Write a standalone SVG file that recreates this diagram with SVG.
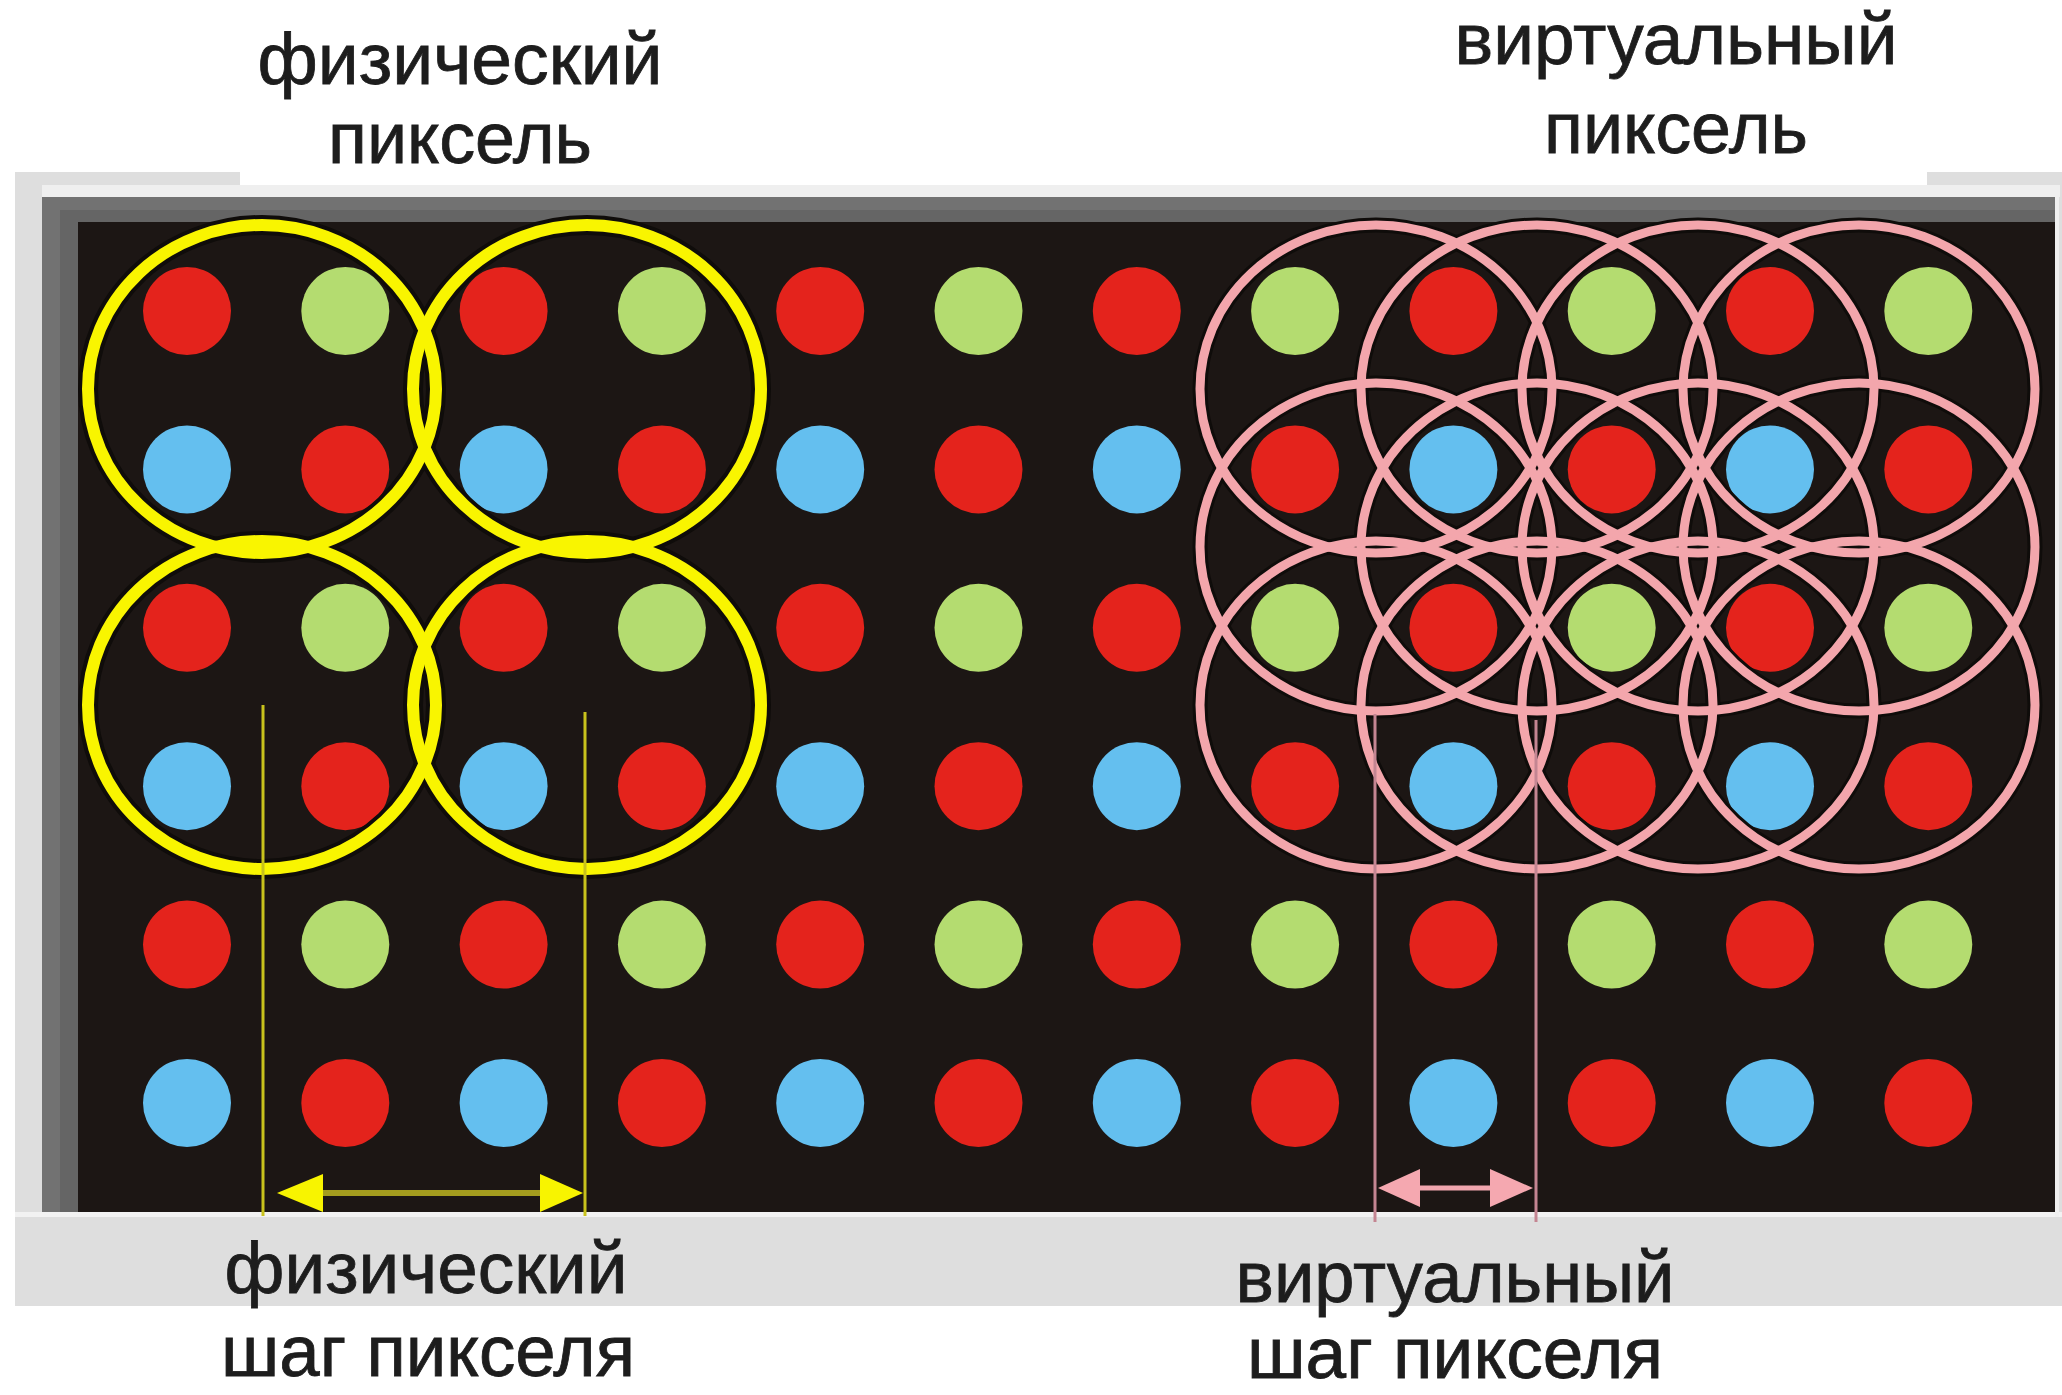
<svg xmlns="http://www.w3.org/2000/svg" width="2062" height="1395" viewBox="0 0 2062 1395">
<defs>
<style>
.lbl{font-family:"Liberation Sans",Arial,sans-serif;font-size:72px;fill:#1d1d1d;stroke:#1d1d1d;stroke-width:0.8;text-anchor:middle}
.r{fill:#e4231c}.g{fill:#b4dc70}.b{fill:#64bfef}
.case-y{fill:none;stroke:#0f0c0a;stroke-width:20}
.ring-y{fill:none;stroke:#f9f500;stroke-width:12}
.case-p{fill:none;stroke:#0f0c0a;stroke-width:15}
.ring-p{fill:none;stroke:#f3a6ac;stroke-width:9}
.dim-y{stroke:#c8c21c;stroke-width:3}
.shaft-y{stroke:#a49c1e;stroke-width:6}
.head-y{fill:#f8f400}
.dim-p{stroke:#c48592;stroke-width:3}
.shaft-p{stroke:#f0a6ae;stroke-width:5}
.head-p{fill:#f5a8b0}
</style>
</defs>

<g id="frame">
<rect x="0" y="0" width="2062" height="1395" fill="#ffffff"/>
<rect x="15" y="172" width="2047" height="1134" fill="#dedede"/>
<rect x="240" y="0" width="1687" height="185" fill="#ffffff"/>
<rect x="42" y="185" width="2018" height="12" fill="#efefef"/>
<rect x="42" y="197" width="2013" height="1015" fill="#727272"/>
<rect x="60" y="210" width="1995" height="1002" fill="#656565"/>
<rect x="78" y="222" width="1977" height="990" fill="#1c1614"/>
<rect x="15" y="1212" width="2047" height="5" fill="#f2f2f2"/>
<rect x="2055" y="197" width="4" height="1020" fill="#efefef"/>
</g>

<g id="dots">
<circle class="r" cx="187" cy="311" r="44"/><circle class="g" cx="345.3" cy="311" r="44"/><circle class="r" cx="503.6" cy="311" r="44"/><circle class="g" cx="661.9" cy="311" r="44"/><circle class="r" cx="820.2" cy="311" r="44"/><circle class="g" cx="978.5" cy="311" r="44"/><circle class="r" cx="1136.8" cy="311" r="44"/><circle class="g" cx="1295.1" cy="311" r="44"/><circle class="r" cx="1453.4" cy="311" r="44"/><circle class="g" cx="1611.7" cy="311" r="44"/><circle class="r" cx="1770" cy="311" r="44"/><circle class="g" cx="1928.3" cy="311" r="44"/>
<circle class="b" cx="187" cy="469.4" r="44"/><circle class="r" cx="345.3" cy="469.4" r="44"/><circle class="b" cx="503.6" cy="469.4" r="44"/><circle class="r" cx="661.9" cy="469.4" r="44"/><circle class="b" cx="820.2" cy="469.4" r="44"/><circle class="r" cx="978.5" cy="469.4" r="44"/><circle class="b" cx="1136.8" cy="469.4" r="44"/><circle class="r" cx="1295.1" cy="469.4" r="44"/><circle class="b" cx="1453.4" cy="469.4" r="44"/><circle class="r" cx="1611.7" cy="469.4" r="44"/><circle class="b" cx="1770" cy="469.4" r="44"/><circle class="r" cx="1928.3" cy="469.4" r="44"/>
<circle class="r" cx="187" cy="627.8" r="44"/><circle class="g" cx="345.3" cy="627.8" r="44"/><circle class="r" cx="503.6" cy="627.8" r="44"/><circle class="g" cx="661.9" cy="627.8" r="44"/><circle class="r" cx="820.2" cy="627.8" r="44"/><circle class="g" cx="978.5" cy="627.8" r="44"/><circle class="r" cx="1136.8" cy="627.8" r="44"/><circle class="g" cx="1295.1" cy="627.8" r="44"/><circle class="r" cx="1453.4" cy="627.8" r="44"/><circle class="g" cx="1611.7" cy="627.8" r="44"/><circle class="r" cx="1770" cy="627.8" r="44"/><circle class="g" cx="1928.3" cy="627.8" r="44"/>
<circle class="b" cx="187" cy="786.2" r="44"/><circle class="r" cx="345.3" cy="786.2" r="44"/><circle class="b" cx="503.6" cy="786.2" r="44"/><circle class="r" cx="661.9" cy="786.2" r="44"/><circle class="b" cx="820.2" cy="786.2" r="44"/><circle class="r" cx="978.5" cy="786.2" r="44"/><circle class="b" cx="1136.8" cy="786.2" r="44"/><circle class="r" cx="1295.1" cy="786.2" r="44"/><circle class="b" cx="1453.4" cy="786.2" r="44"/><circle class="r" cx="1611.7" cy="786.2" r="44"/><circle class="b" cx="1770" cy="786.2" r="44"/><circle class="r" cx="1928.3" cy="786.2" r="44"/>
<circle class="r" cx="187" cy="944.6" r="44"/><circle class="g" cx="345.3" cy="944.6" r="44"/><circle class="r" cx="503.6" cy="944.6" r="44"/><circle class="g" cx="661.9" cy="944.6" r="44"/><circle class="r" cx="820.2" cy="944.6" r="44"/><circle class="g" cx="978.5" cy="944.6" r="44"/><circle class="r" cx="1136.8" cy="944.6" r="44"/><circle class="g" cx="1295.1" cy="944.6" r="44"/><circle class="r" cx="1453.4" cy="944.6" r="44"/><circle class="g" cx="1611.7" cy="944.6" r="44"/><circle class="r" cx="1770" cy="944.6" r="44"/><circle class="g" cx="1928.3" cy="944.6" r="44"/>
<circle class="b" cx="187" cy="1103" r="44"/><circle class="r" cx="345.3" cy="1103" r="44"/><circle class="b" cx="503.6" cy="1103" r="44"/><circle class="r" cx="661.9" cy="1103" r="44"/><circle class="b" cx="820.2" cy="1103" r="44"/><circle class="r" cx="978.5" cy="1103" r="44"/><circle class="b" cx="1136.8" cy="1103" r="44"/><circle class="r" cx="1295.1" cy="1103" r="44"/><circle class="b" cx="1453.4" cy="1103" r="44"/><circle class="r" cx="1611.7" cy="1103" r="44"/><circle class="b" cx="1770" cy="1103" r="44"/><circle class="r" cx="1928.3" cy="1103" r="44"/>
</g>

<g id="physical-pixels">
<ellipse class="case-y" cx="262" cy="389" rx="174" ry="164"/><ellipse class="case-y" cx="587" cy="389" rx="174" ry="164"/><ellipse class="case-y" cx="262" cy="705" rx="174" ry="164"/><ellipse class="case-y" cx="587" cy="705" rx="174" ry="164"/>
<ellipse class="ring-y" cx="262" cy="389" rx="174" ry="164"/><ellipse class="ring-y" cx="587" cy="389" rx="174" ry="164"/><ellipse class="ring-y" cx="262" cy="705" rx="174" ry="164"/><ellipse class="ring-y" cx="587" cy="705" rx="174" ry="164"/>
</g>

<g id="virtual-pixels">
<ellipse class="case-p" cx="1376" cy="389" rx="176" ry="164"/><ellipse class="case-p" cx="1537" cy="389" rx="176" ry="164"/><ellipse class="case-p" cx="1698" cy="389" rx="176" ry="164"/><ellipse class="case-p" cx="1859" cy="389" rx="176" ry="164"/>
<ellipse class="case-p" cx="1376" cy="547" rx="176" ry="164"/><ellipse class="case-p" cx="1537" cy="547" rx="176" ry="164"/><ellipse class="case-p" cx="1698" cy="547" rx="176" ry="164"/><ellipse class="case-p" cx="1859" cy="547" rx="176" ry="164"/>
<ellipse class="case-p" cx="1376" cy="705" rx="176" ry="164"/><ellipse class="case-p" cx="1537" cy="705" rx="176" ry="164"/><ellipse class="case-p" cx="1698" cy="705" rx="176" ry="164"/><ellipse class="case-p" cx="1859" cy="705" rx="176" ry="164"/>
<ellipse class="ring-p" cx="1376" cy="389" rx="176" ry="164"/><ellipse class="ring-p" cx="1537" cy="389" rx="176" ry="164"/><ellipse class="ring-p" cx="1698" cy="389" rx="176" ry="164"/><ellipse class="ring-p" cx="1859" cy="389" rx="176" ry="164"/>
<ellipse class="ring-p" cx="1376" cy="547" rx="176" ry="164"/><ellipse class="ring-p" cx="1537" cy="547" rx="176" ry="164"/><ellipse class="ring-p" cx="1698" cy="547" rx="176" ry="164"/><ellipse class="ring-p" cx="1859" cy="547" rx="176" ry="164"/>
<ellipse class="ring-p" cx="1376" cy="705" rx="176" ry="164"/><ellipse class="ring-p" cx="1537" cy="705" rx="176" ry="164"/><ellipse class="ring-p" cx="1698" cy="705" rx="176" ry="164"/><ellipse class="ring-p" cx="1859" cy="705" rx="176" ry="164"/>
</g>

<g id="connectors">
<g id="physical-pitch">
<line class="dim-y" x1="263" y1="705" x2="263" y2="1216"/>
<line class="dim-y" x1="585" y1="712" x2="585" y2="1216"/>
<line class="shaft-y" x1="318" y1="1193" x2="546" y2="1193"/>
<polygon class="head-y" points="277,1193 323,1174 323,1212"/>
<polygon class="head-y" points="583,1193 540,1174 540,1212"/>
</g>
<g id="virtual-pitch">
<line class="dim-p" x1="1375" y1="714" x2="1375" y2="1222"/>
<line class="dim-p" x1="1536" y1="720" x2="1536" y2="1222"/>
<line class="shaft-p" x1="1415" y1="1188" x2="1493" y2="1188"/>
<polygon class="head-p" points="1378,1188 1420,1169 1420,1207"/>
<polygon class="head-p" points="1533,1188 1490,1169 1490,1207"/>
</g>
</g>

<g id="label-physical-pixel">
<text class="lbl" x="460" y="84" textLength="405" lengthAdjust="spacingAndGlyphs">физический</text>
<text class="lbl" x="460" y="163" textLength="264" lengthAdjust="spacingAndGlyphs">пиксель</text>
</g>
<g id="label-virtual-pixel">
<text class="lbl" x="1676" y="64" textLength="443" lengthAdjust="spacingAndGlyphs">виртуальный</text>
<text class="lbl" x="1676" y="153" textLength="264" lengthAdjust="spacingAndGlyphs">пиксель</text>
</g>
<g id="label-physical-pitch">
<text class="lbl" x="426" y="1293" textLength="403" lengthAdjust="spacingAndGlyphs">физический</text>
<text class="lbl" x="428" y="1376" textLength="414" lengthAdjust="spacingAndGlyphs">шаг пикселя</text>
</g>
<g id="label-virtual-pitch">
<text class="lbl" x="1455" y="1302" textLength="439" lengthAdjust="spacingAndGlyphs">виртуальный</text>
<text class="lbl" x="1455" y="1378" textLength="416" lengthAdjust="spacingAndGlyphs">шаг пикселя</text>
</g>
</svg>
